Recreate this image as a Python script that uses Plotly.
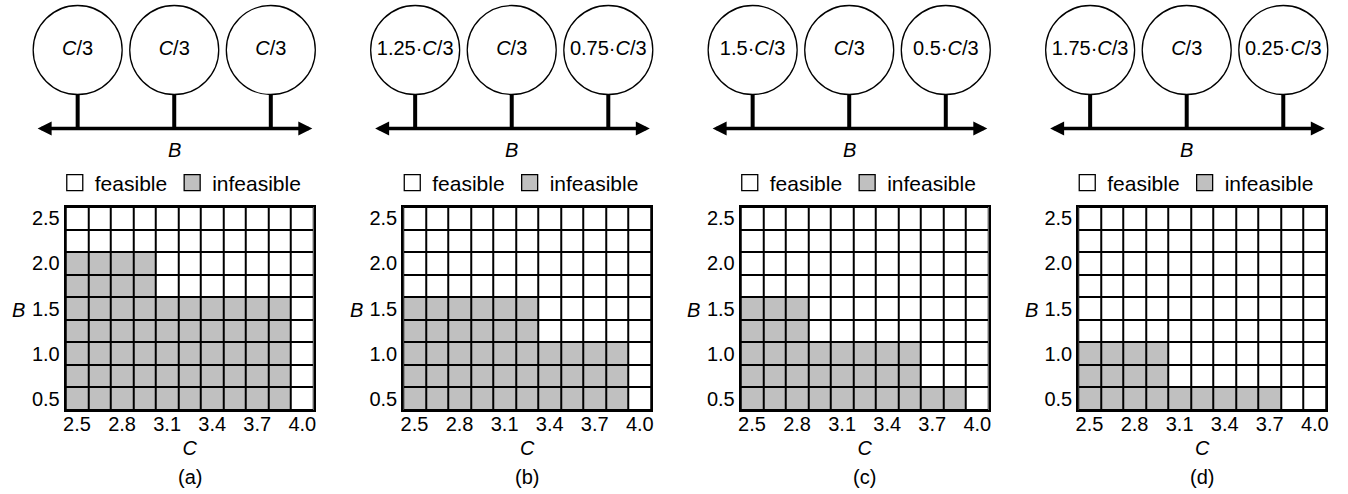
import plotly.graph_objects as go

# ---------------- data ----------------
C_values = [2.5, 2.65, 2.8, 2.95, 3.1, 3.25, 3.4, 3.55, 3.7, 3.85, 4.0]
B_values = [0.5, 0.75, 1.0, 1.25, 1.5, 1.75, 2.0, 2.25, 2.5]
C_ticks = [2.5, 2.8, 3.1, 3.4, 3.7, 4.0]
B_ticks = [0.5, 1.0, 1.5, 2.0, 2.5]

# number of infeasible cells (counted from C = 2.5) in each B row, B from 0.5 to 2.5
infeasible_a = [10, 10, 10, 10, 10, 4, 4, 0, 0]
infeasible_b = [10, 10, 10, 6, 6, 0, 0, 0, 0]
infeasible_c = [10, 8, 8, 3, 3, 0, 0, 0, 0]
infeasible_d = [9, 4, 4, 0, 0, 0, 0, 0, 0]

node_positions = [1, 2, 3]
labels_a = ["<i>C</i>/3", "<i>C</i>/3", "<i>C</i>/3"]
labels_b = ["1.25·<i>C</i>/3", "<i>C</i>/3", "0.75·<i>C</i>/3"]
labels_c = ["1.5·<i>C</i>/3", "<i>C</i>/3", "0.5·<i>C</i>/3"]
labels_d = ["1.75·<i>C</i>/3", "<i>C</i>/3", "0.25·<i>C</i>/3"]

panel_names = ["(a)", "(b)", "(c)", "(d)"]
legend_names = ["feasible", "infeasible"]

# ---------------- layout constants (pixels) ----------------
W, H = 1348, 494
FONT = "Liberation Sans, Arial, sans-serif"
FS = 20
LEG_FS = 21
GRID_LEFT = [63, 402, 741, 1080]
GRID_W = 249
GRID_TOP, GRID_BOTTOM = 207, 410
WHITE, GRAY = "#ffffff", "#c0c0c0"

NODE_SP = 97          # px between nodes
NODE1_OFF = 12        # node 1 offset from grid left
SCH_LEFT, SCH_RIGHT = -40, 260
SCH_TOP, SCH_BOTTOM = 0, 165
LINE_ROW = 128.5
CIRCLE_ROW = 50
CIRCLE_D = 89
LINE_HALF = 1.43      # arrow half-length in node units

infeasible = [infeasible_a, infeasible_b, infeasible_c, infeasible_d]
labels = [labels_a, labels_b, labels_c, labels_d]


def ax_id(k):
    return "" if k == 1 else str(k)


fig = go.Figure()
layout = dict(
    width=W, height=H, margin=dict(l=0, r=0, t=0, b=0),
    paper_bgcolor="white", plot_bgcolor="rgba(0,0,0,0)",
    font=dict(family=FONT, size=FS, color="black"),
    showlegend=True,
)
shapes, annotations = [], []

for i in range(4):
    L = GRID_LEFT[i]
    kg, ks = 2 * i + 1, 2 * i + 2
    gx, gy = "x" + ax_id(kg), "y" + ax_id(kg)
    sx, sy = "x" + ax_id(ks), "y" + ax_id(ks)
    lg = "legend" + ("" if i == 0 else str(i + 1))

    # ---- grid heatmap ----
    z = [[1 if j < n else 0 for j in range(len(C_values))] for n in infeasible[i]]
    fig.add_trace(go.Heatmap(
        x=C_values, y=B_values, z=z, zmin=0, zmax=1,
        colorscale=[[0, WHITE], [1, GRAY]], showscale=False,
        xgap=2, ygap=2, xaxis=gx, yaxis=gy, hoverinfo="skip", showlegend=False,
    ))
    shapes.append(dict(type="rect", xref=gx + " domain", yref=gy + " domain",
                       x0=0, x1=1, y0=0, y1=1, fillcolor="black",
                       line=dict(width=0), layer="below"))
    dc = (C_values[1] - C_values[0]) / 2
    db = (B_values[1] - B_values[0]) / 2
    layout["xaxis" + ax_id(kg)] = dict(
        domain=[L / W, (L + GRID_W) / W], anchor=gy,
        range=[C_values[0] - dc, C_values[-1] + dc],
        tickvals=C_ticks, ticktext=[f"{v:.1f}" for v in C_ticks],
        ticks="", showgrid=False, zeroline=False, ticklabelstandoff=-5,
        showline=True, linecolor="black", linewidth=2, mirror=True,
        title=dict(text="<i>C</i>", standoff=7, font=dict(size=FS)),
        tickfont=dict(size=FS), fixedrange=True,
    )
    layout["yaxis" + ax_id(kg)] = dict(
        domain=[1 - GRID_BOTTOM / H, 1 - GRID_TOP / H], anchor=gx,
        range=[B_values[0] - db, B_values[-1] + db],
        tickvals=B_ticks, ticktext=[f"{v:.1f}" for v in B_ticks],
        ticks="", showgrid=False, zeroline=False,
        showline=True, linecolor="black", linewidth=2, mirror=True,
        tickfont=dict(size=FS), fixedrange=True,
    )
    annotations.append(dict(text="<i>B</i>", xref="paper", yref="paper",
                            x=(L - 47) / W, y=1 - 310 / H, showarrow=False,
                            xanchor="center", yanchor="middle",
                            font=dict(size=FS)))
    annotations.append(dict(text=panel_names[i], xref="paper", yref="paper",
                            x=(L + GRID_W / 2) / W, y=1 - 477 / H, showarrow=False,
                            xanchor="center", yanchor="middle",
                            font=dict(size=FS)))

    # ---- legend ----
    for name, col in zip(legend_names, [WHITE, GRAY]):
        fig.add_trace(go.Scatter(
            x=[None], y=[None], mode="markers", name=name, legend=lg,
            marker=dict(symbol="square", size=16, color=col,
                        line=dict(color="black", width=1.3)),
            xaxis=gx, yaxis=gy, hoverinfo="skip",
        ))
    layout[lg] = dict(
        orientation="h", x=(L - 11) / W, y=1 - 183 / H,
        xanchor="left", yanchor="middle", bgcolor="rgba(0,0,0,0)",
        borderwidth=0, font=dict(size=LEG_FS), itemclick=False,
        itemdoubleclick=False, traceorder="normal",
    )

    # ---- schematic ----
    x0 = node_positions[0] - (NODE1_OFF - SCH_LEFT) / NODE_SP
    x1 = x0 + (SCH_RIGHT - SCH_LEFT) / NODE_SP
    layout["xaxis" + ax_id(ks)] = dict(
        domain=[(L + SCH_LEFT) / W, (L + SCH_RIGHT) / W], anchor=sy,
        range=[x0, x1], visible=False, fixedrange=True,
    )
    layout["yaxis" + ax_id(ks)] = dict(
        domain=[1 - SCH_BOTTOM / H, 1 - SCH_TOP / H], anchor=sx,
        range=[LINE_ROW - SCH_BOTTOM, LINE_ROW - SCH_TOP], visible=False,
        fixedrange=True,
    )
    circle_y = LINE_ROW - CIRCLE_ROW
    stem_top = circle_y - CIRCLE_D / 2
    sxs, sys_ = [], []
    for n in node_positions:
        sxs += [n, n, None]
        sys_ += [0, stem_top, None]
    fig.add_trace(go.Scatter(
        x=sxs, y=sys_, mode="lines", line=dict(color="black", width=4),
        xaxis=sx, yaxis=sy, showlegend=False, hoverinfo="skip",
    ))
    fig.add_trace(go.Scatter(
        x=node_positions, y=[circle_y] * len(node_positions),
        mode="markers+text", text=labels[i], textposition="middle center",
        textfont=dict(size=FS, color="black", family=FONT),
        marker=dict(size=CIRCLE_D, color="white", line=dict(color="black", width=1.3)),
        xaxis=sx, yaxis=sy, showlegend=False, hoverinfo="skip", cliponaxis=False,
    ))
    mid = node_positions[1]
    annotations.append(dict(
        x=mid + LINE_HALF, y=0, ax=mid - LINE_HALF, ay=0,
        xref=sx, yref=sy, axref=sx, ayref=sy, text="", showarrow=True,
        arrowside="end+start", arrowhead=2, arrowsize=0.8, arrowwidth=3.5,
        arrowcolor="black", startarrowhead=2, startarrowsize=0.8,
    ))
    annotations.append(dict(
        text="<i>B</i>", x=mid, y=LINE_ROW - 150, xref=sx, yref=sy,
        showarrow=False, font=dict(size=FS),
    ))

layout["shapes"] = shapes
layout["annotations"] = annotations
fig.update_layout(**layout)
fig.write_html("out.html",
               config={"displayModeBar": False, "staticPlot": True},
               post_script="document.body.style.margin='0px';")
